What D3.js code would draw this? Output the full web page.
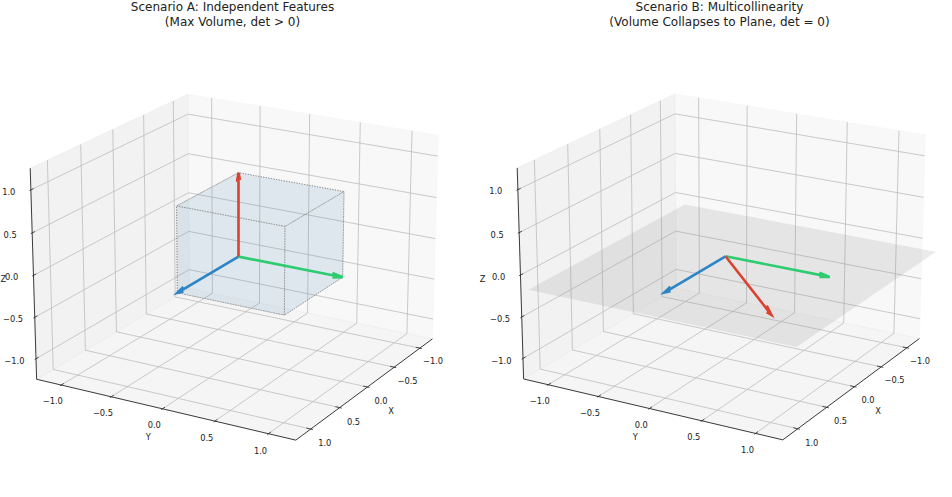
<!DOCTYPE html>
<html>
<head>
<meta charset="utf-8">
<title>Independent Features vs Multicollinearity</title>
<script src="https://d3js.org/d3.v7.min.js"></script>
<style>
    body {
        margin: 0;
        background-color: #ffffff;
    }
    svg {
        display: block;
        font-family: "DejaVu Sans", sans-serif;
    }
    .grid {
        fill: none;
        stroke: #bdbdbd;
        stroke-width: 0.8px;
    }
    .axis-line {
        fill: none;
        stroke: #262626;
        stroke-width: 0.9px;
    }
    .tick {
        stroke: #262626;
        stroke-width: 0.8px;
    }
    .tick-label, .axis-label {
        font-size: 8.3px;
        fill: #222;
    }
    .title {
        font-size: 12px;
        fill: #222;
    }
</style>
</head>
<body>
<div id="chart"></div>
<script>
    // ---- data ----
    const axisLimits = [-1.2, 1.2];
    const tickValues = [-1.0, -0.5, 0.0, 0.5, 1.0];
    const tickLabels = ["\u22121.0", "\u22120.5", "0.0", "0.5", "1.0"];
    const axisNames = ["X", "Y", "Z"];

    const titlesA = ["Scenario A: Independent Features", "(Max Volume, det > 0)"];
    const titlesB = ["Scenario B: Multicollinearity", "(Volume Collapses to Plane, det = 0)"];

    // feature vectors (blue, green, red)
    const vectorsA = [[1, 0, 0], [0, 1, 0], [0, 0, 1]];
    const vectorsB = [[1, 0, 0], [0, 1, 0], [1, 1, 0]];
    const vectorColors = ["#2b85c6", "#2ecc71", "#d8442f"];

    // unit cube spanned by the independent vectors
    const cubeMin = [0, 0, 0];
    const cubeMax = [1, 1, 1];

    // collapsed plane z = 0
    const planeXRange = [-1, 1.5];
    const planeYRange = [-1, 1.5];
    const planeZ = 0;

    // ---- view (matplotlib style perspective camera) ----
    const width = 952;
    const height = 497;
    const elev = 20 * Math.PI / 180;
    const azim = 30 * Math.PI / 180;
    const dist = 10;
    const arrowRatio = 0.1;

    const aspectNorm = 1.8294640721620434 / Math.hypot(4, 4, 3);
    const boxAspect = [4, 4, 3].map(a => a * aspectNorm);

    // data -> centred world coordinates
    const world = boxAspect.map(a => d3.scaleLinear().domain(axisLimits).range([-a / 2, a / 2]));

    const dot = (a, b) => a[0] * b[0] + a[1] * b[1] + a[2] * b[2];
    const cross = (a, b) => [a[1] * b[2] - a[2] * b[1], a[2] * b[0] - a[0] * b[2], a[0] * b[1] - a[1] * b[0]];
    const unit = a => { const n = Math.hypot(...a); return a.map(c => c / n); };

    const viewW = [Math.cos(elev) * Math.cos(azim), Math.cos(elev) * Math.sin(azim), Math.sin(elev)];
    const viewU = unit(cross([0, 0, 1], viewW));
    const viewV = cross(viewW, viewU);

    function project(p) {
        const q = p.map((c, i) => world[i](c));
        const den = dist - dot(q, viewW);
        return [dot(q, viewU) / den, dot(q, viewV) / den];
    }

    // pane bounds (limits padded by a quarter of 1/12 of the range)
    const delta = (axisLimits[1] - axisLimits[0]) / 12;
    const lo = axisLimits[0] - delta / 4;
    const hi = axisLimits[1] + delta / 4;
    const backX = viewW[0] > 0 ? lo : hi;
    const backY = viewW[1] > 0 ? lo : hi;
    const frontX = backX === lo ? hi : lo;
    const frontY = backY === lo ? hi : lo;
    const floorZ = viewW[2] > 0 ? lo : hi;
    const sgn = v => (v > 0 ? 1 : -1);

    const tickLabelPad = 0.13;
    const axisLabelPad = 0.225;

    const panels = [
        { cx: 238.5, cy: 256.6, titles: titlesA, vectors: vectorsA, solid: "cube" },
        { cx: 725.5, cy: 256.3, titles: titlesB, vectors: vectorsB, solid: "plane" }
    ];
    const halfSpan = 247;

    const svg = d3.select("#chart")
        .append("svg")
        .attr("width", width)
        .attr("height", height);

    svg.append("rect")
        .attr("width", width)
        .attr("height", height)
        .attr("fill", "#ffffff");

    function rotate(v, k, ang) {
        const c = Math.cos(ang), s = Math.sin(ang);
        const kv = cross(k, v);
        const kd = dot(k, v);
        return v.map((vi, i) => vi * c + kv[i] * s + k[i] * kd * (1 - c));
    }

    function arrowHeads(vec) {
        const n = Math.hypot(vec[0], vec[1]);
        const k = [n ? vec[1] / n : 0, n ? -vec[0] / n : 1, 0];
        return [15, -15].map(deg => {
            const r = rotate(vec, k, deg * Math.PI / 180);
            return vec.map((c, i) => c - arrowRatio * r[i]);
        });
    }

    panels.forEach(panel => {
        const sx = d3.scaleLinear().domain([-0.1, 0.1]).range([panel.cx - halfSpan, panel.cx + halfSpan]);
        const sy = d3.scaleLinear().domain([-0.1, 0.1]).range([panel.cy + halfSpan, panel.cy - halfSpan]);
        const toScreen = p => { const q = project(p); return [sx(q[0]), sy(q[1])]; };
        const line = d3.line();
        const path = pts => line(pts.map(toScreen));
        const closed = pts => path(pts) + "Z";

        const g = svg.append("g");

        // panes
        const panes = [
            { pts: [[backX, lo, lo], [backX, hi, lo], [backX, hi, hi], [backX, lo, hi]], fill: "rgba(242,242,242,0.5)" },
            { pts: [[lo, backY, lo], [hi, backY, lo], [hi, backY, hi], [lo, backY, hi]], fill: "rgba(230,230,230,0.5)" },
            { pts: [[lo, lo, floorZ], [hi, lo, floorZ], [hi, hi, floorZ], [lo, hi, floorZ]], fill: "rgba(236,236,236,0.5)" }
        ];
        g.append("g").selectAll("path")
            .data(panes)
            .join("path")
            .attr("d", d => closed(d.pts))
            .attr("fill", d => d.fill)
            .attr("stroke", d => d.fill)
            .attr("stroke-width", 0.8);

        // grid lines
        const gridG = g.append("g");
        const farZ = floorZ === lo ? hi : lo;
        gridG.selectAll(".gx").data(tickValues).join("path")
            .attr("class", "grid")
            .attr("d", t => path([[t, frontY, floorZ], [t, backY, floorZ], [t, backY, farZ]]));
        gridG.selectAll(".gy").data(tickValues).join("path")
            .attr("class", "grid")
            .attr("d", t => path([[frontX, t, floorZ], [backX, t, floorZ], [backX, t, farZ]]));
        gridG.selectAll(".gz").data(tickValues).join("path")
            .attr("class", "grid")
            .attr("d", t => path([[frontX, backY, t], [backX, backY, t], [backX, frontY, t]]));

        // axes: point on axis for value t, tick direction index, label offset dims
        const axes = [
            { at: t => [t, frontY, floorZ], tickDir: 1, off: [[1, sgn(frontY)], [2, sgn(floorZ)]] },
            { at: t => [frontX, t, floorZ], tickDir: 0, off: [[0, sgn(frontX)], [2, sgn(floorZ)]] },
            { at: t => [frontX, backY, t], tickDir: 0, off: [[0, sgn(frontX)], [1, sgn(backY)]] }
        ];

        axes.forEach((ax, i) => {
            const axG = g.append("g");
            axG.append("path")
                .attr("class", "axis-line")
                .attr("d", path([ax.at(lo), ax.at(hi)]));

            const outSign = sgn(ax.at(0)[ax.tickDir]);
            axG.selectAll(".tick").data(tickValues).join("path")
                .attr("class", "tick")
                .attr("d", t => {
                    const a = ax.at(t), b = ax.at(t);
                    a[ax.tickDir] += 0.1 * delta * outSign;
                    b[ax.tickDir] -= 0.2 * delta * outSign;
                    return path([a, b]);
                });

            const shifted = (t, pad) => {
                const p = ax.at(t);
                ax.off.forEach(([k, s]) => { p[k] += pad * s; });
                return toScreen(p);
            };

            axG.selectAll(".tick-label").data(tickValues).join("text")
                .attr("class", "tick-label")
                .attr("x", t => shifted(t, tickLabelPad)[0])
                .attr("y", t => shifted(t, tickLabelPad)[1])
                .attr("text-anchor", "middle")
                .attr("dominant-baseline", "central")
                .text((t, j) => tickLabels[j]);

            // axis label; if it would fall off the left edge, pin it to the edge
            const lp = shifted(0, axisLabelPad);
            const offEdge = lp[0] < 4;
            axG.append("text")
                .attr("class", "axis-label")
                .attr("x", offEdge ? 0.5 : lp[0])
                .attr("y", lp[1])
                .attr("text-anchor", offEdge ? "start" : "middle")
                .attr("dominant-baseline", "central")
                .text(axisNames[i]);
        });

        // solid: parallelepiped (A) or collapsed plane (B)
        if (panel.solid === "cube") {
            const [x0, y0, z0] = cubeMin, [x1, y1, z1] = cubeMax;
            const faces = [
                [[x0, y0, z0], [x1, y0, z0], [x1, y1, z0], [x0, y1, z0]],
                [[x0, y0, z1], [x1, y0, z1], [x1, y1, z1], [x0, y1, z1]],
                [[x0, y0, z0], [x1, y0, z0], [x1, y0, z1], [x0, y0, z1]],
                [[x0, y1, z0], [x1, y1, z0], [x1, y1, z1], [x0, y1, z1]],
                [[x0, y0, z0], [x0, y1, z0], [x0, y1, z1], [x0, y0, z1]],
                [[x1, y0, z0], [x1, y1, z0], [x1, y1, z1], [x1, y0, z1]]
            ];
            g.append("g").selectAll("path")
                .data(faces)
                .join("path")
                .attr("d", closed)
                .attr("fill", "steelblue")
                .attr("fill-opacity", 0.075)
                .attr("stroke", "#8a8a8a")
                .attr("stroke-width", 0.8)
                .attr("stroke-dasharray", "1,1.6");
        } else {
            const [px0, px1] = planeXRange, [py0, py1] = planeYRange;
            g.append("path")
                .attr("d", closed([[px0, py0, planeZ], [px1, py0, planeZ], [px1, py1, planeZ], [px0, py1, planeZ]]))
                .attr("fill", "#8a8a8a")
                .attr("fill-opacity", 0.17);
        }

        // vectors (quiver style: shaft + two head strokes)
        const arrowG = g.append("g");
        panel.vectors.forEach((vec, i) => {
            const heads = arrowHeads(vec);
            arrowG.append("path")
                .attr("d", path([[0, 0, 0], vec]) + path([heads[0], vec, heads[1]]))
                .attr("fill", "none")
                .attr("stroke", vectorColors[i])
                .attr("stroke-width", 2.6)
                .attr("stroke-linejoin", "miter");
        });

        // title
        g.append("g").selectAll("text")
            .data(panel.titles)
            .join("text")
            .attr("class", "title")
            .attr("x", panel.cx - 6)
            .attr("y", (d, j) => 11 + j * 15)
            .attr("text-anchor", "middle")
            .text(d => d);
    });
</script>
</body>
</html>
